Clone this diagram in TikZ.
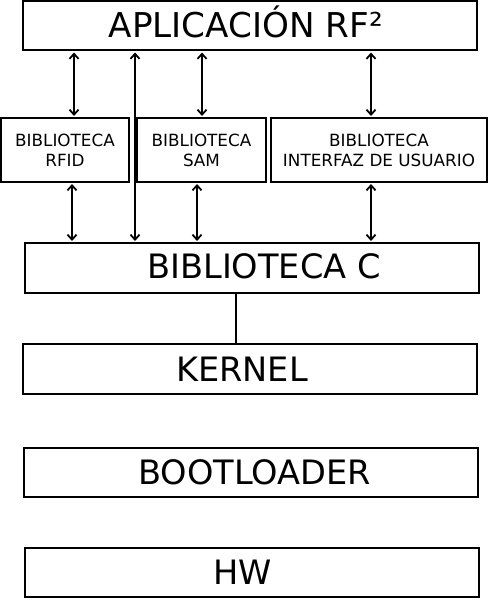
\documentclass[tikz,border=0pt]{standalone}
\usepackage{fontspec}
\setmainfont{DejaVu Sans}
\usetikzlibrary{arrows.meta}

\begin{document}
\begin{tikzpicture}[x=1pt, y=-1pt,
  layer/.style={draw, line width=2pt, minimum width=454pt, minimum height=49pt, inner sep=0pt},
  lib/.style={draw, line width=2pt, minimum height=64pt, inner sep=0pt, align=center, font=\fontsize{16.8}{20}\selectfont},
  big/.style={font=\fontsize{33.6}{40}\selectfont, text height=24.5pt, text depth=0pt, inner sep=0pt},
  link/.style={{Straight Barb[length=5pt,width=9pt]}-{Straight Barb[length=5pt,width=9pt]}, line width=1.8pt, shorten <=1pt, shorten >=1pt}]

\useasboundingbox (0,0) rectangle (490,601);

% capas
\node[layer, label={[big, font=\fontsize{34.2}{40}\selectfont, text height=25pt, xshift=-4pt, yshift=1pt]center:APLICACIÓN RF²}] (app) at (250,26) {};
\node[layer, minimum height=50pt, label={[big, xshift=12pt, yshift=2pt]center:BIBLIOTECA C}] (libc) at (252,268) {};
\node[layer, minimum height=50pt, label={[big, xshift=-8pt]center:KERNEL}] (kernel) at (250,369) {};
\node[layer, label={[big, xshift=4pt]center:BOOTLOADER}] (boot) at (250.5,472) {};
\node[layer, label={[big, xshift=-9pt]center:HW}] (hw) at (251.5,572.5) {};

% bibliotecas
\node[lib, minimum width=127.5pt] (rfid) at (65,150) {BIBLIOTECA\\RFID};
\node[lib, minimum width=129pt] (sam) at (201.5,150) {BIBLIOTECA\\SAM};
\node[lib, minimum width=216pt] (ui) at (379,150) {BIBLIOTECA\\INTERFAZ DE USUARIO};

\draw[link] (app.south -| 74,0) -- (rfid.north -| 74,0);
\draw[link] (app.south -| 202,0) -- (sam.north -| 202,0);
\draw[link] (app.south -| 371,0) -- (ui.north -| 371,0);
\draw[link] (app.south -| 135,0) -- (libc.north -| 135,0);

\draw[link] (rfid.south -| 72,0) -- (libc.north -| 72,0);
\draw[link] (sam.south -| 197,0) -- (libc.north -| 197,0);
\draw[link] (ui.south -| 371,0) -- (libc.north -| 371,0);

\draw[line width=1.8pt] (libc.south -| 236,0) -- (kernel.north -| 236,0);

\end{tikzpicture}
\end{document}
